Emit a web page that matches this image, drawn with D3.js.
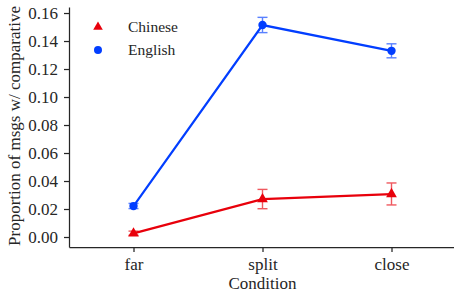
<!DOCTYPE html>
<html>
<head>
<meta charset="utf-8">
<script src="https://cdn.jsdelivr.net/npm/d3@7"></script>
<style>
  body { margin: 0; background: #fff; }
</style>
</head>
<body>
<div id="chart"></div>
<script>
const conditions = ["far", "split", "close"];
const yTicks = [0, 0.02, 0.04, 0.06, 0.08, 0.10, 0.12, 0.14, 0.16];

const english = [0.0221, 0.1514, 0.133];
const englishLo = [0.0203, 0.146, 0.128];
const englishHi = [0.0240, 0.1569, 0.138];

const chinese = [0.0026, 0.027, 0.0307];
const chineseLo = [0.0012, 0.0202, 0.0229];
const chineseHi = [0.0042, 0.034, 0.0386];

const width = 454;
const height = 298;
const margin = { top: 7, right: 0, bottom: 51, left: 69 };
const serif = "Liberation Serif, Times New Roman, serif";

const svg = d3.select("#chart").append("svg")
  .attr("width", width)
  .attr("height", height)
  .attr("font-family", serif);

const x = d3.scaleLinear()
  .domain([-0.5, 2.5])
  .range([margin.left, width - margin.right + 2]);

const y = d3.scaleLinear()
  .domain([-0.00714, 0.1643])
  .range([height - margin.bottom, margin.top]);

// axes
const xAxis = svg.append("g")
  .attr("transform", `translate(0,${height - margin.bottom})`)
  .call(d3.axisBottom(x).tickValues([0, 1, 2]).tickFormat((d) => conditions[d]).tickSize(5).tickPadding(6).tickSizeOuter(0));

const yAxis = svg.append("g")
  .attr("transform", `translate(${margin.left},0)`)
  .call(d3.axisLeft(y).tickValues(yTicks).tickFormat(d3.format(".2f")).tickSize(5).tickPadding(6).tickSizeOuter(0));

[xAxis, yAxis].forEach((g) => {
  g.attr("font-family", serif).attr("font-size", 17);
  g.select(".domain").attr("stroke", "#262626").attr("stroke-width", 1.25);
  g.selectAll(".tick line").attr("stroke", "#262626").attr("stroke-width", 1.25);
  g.selectAll(".tick text").attr("fill", "#262626");
});

svg.append("text")
  .attr("x", x(1))
  .attr("y", 289)
  .attr("text-anchor", "middle")
  .attr("font-size", 17)
  .attr("fill", "#262626")
  .text("Condition");

svg.append("text")
  .attr("transform", "translate(20,126) rotate(-90)")
  .attr("text-anchor", "middle")
  .attr("font-size", 17)
  .attr("fill", "#262626")
  .text("Proportion of msgs w/ comparative");

// series
const series = [
  { name: "Chinese", color: "#e8000b", values: chinese, lo: chineseLo, hi: chineseHi, shape: d3.symbolTriangle },
  { name: "English", color: "#023eff", values: english, lo: englishLo, hi: englishHi, shape: d3.symbolCircle }
];

const line = d3.line()
  .x((d, i) => x(i))
  .y((d) => y(d));

series.forEach((s) => {
  const g = svg.append("g");

  // error bars
  s.values.forEach((v, i) => {
    const eb = g.append("g").attr("stroke", s.color).attr("stroke-width", 1.4).attr("opacity", 0.65);
    eb.append("line").attr("x1", x(i)).attr("x2", x(i)).attr("y1", y(s.lo[i])).attr("y2", y(s.hi[i]));
    eb.append("line").attr("x1", x(i) - 5).attr("x2", x(i) + 5).attr("y1", y(s.lo[i])).attr("y2", y(s.lo[i]));
    eb.append("line").attr("x1", x(i) - 5).attr("x2", x(i) + 5).attr("y1", y(s.hi[i])).attr("y2", y(s.hi[i]));
  });

  g.append("path")
    .datum(s.values)
    .attr("fill", "none")
    .attr("stroke", s.color)
    .attr("stroke-width", 2.2)
    .attr("d", line);

  g.selectAll(".pt")
    .data(s.values)
    .join("path")
    .attr("class", "pt")
    .attr("transform", (d, i) => `translate(${x(i)},${y(d)})`)
    .attr("fill", s.color)
    .attr("d", d3.symbol().type(s.shape).size(s.shape === d3.symbolCircle ? 55 : 50));
});

// legend
const legend = svg.append("g").attr("transform", "translate(98,27)");
series.forEach((s, i) => {
  const row = legend.append("g").attr("transform", `translate(0,${i * 23})`);
  row.append("path")
    .attr("fill", s.color)
    .attr("d", d3.symbol().type(s.shape).size(s.shape === d3.symbolCircle ? 50 : 40));
  row.append("text")
    .attr("x", 30)
    .attr("y", 5)
    .attr("font-size", 15.5)
    .attr("fill", "#262626")
    .text(s.name);
});
</script>
</body>
</html>
